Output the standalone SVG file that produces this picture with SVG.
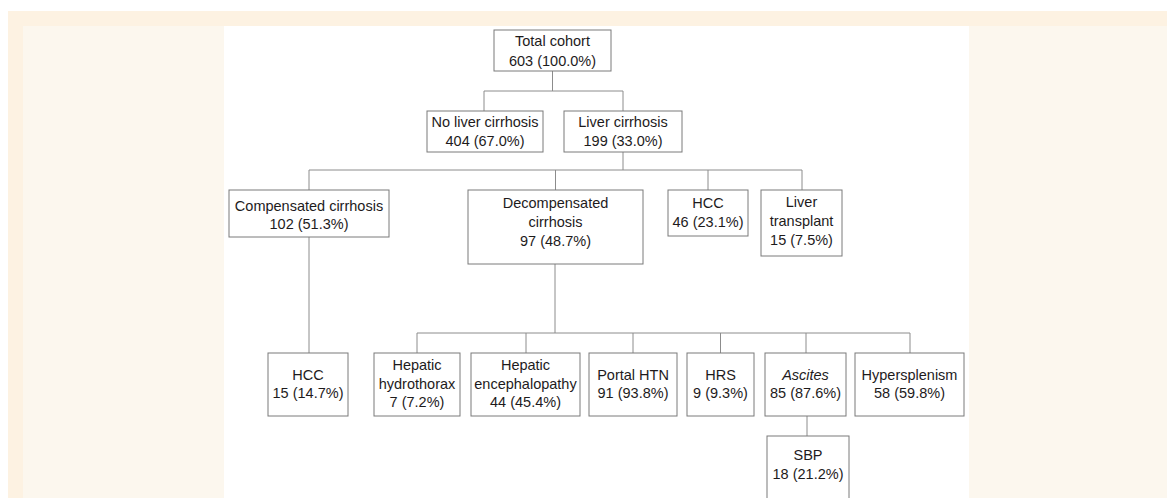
<svg xmlns="http://www.w3.org/2000/svg" width="1167" height="498" viewBox="0 0 1167 498">
<style>
.box{fill:#fff;stroke:#7a7a7a;stroke-width:1}
.ln{fill:none;stroke:#8c8c8c;stroke-width:1}
text{font-family:"Liberation Sans",Arial,sans-serif;font-size:14.5px;fill:#1e1b1c;text-anchor:middle}
</style>
<rect x="0" y="0" width="1167" height="498" fill="#ffffff"/>
<rect x="8" y="11" width="1159" height="15" fill="#fdf2e2"/>
<rect x="8" y="26" width="15" height="472" fill="#fdf2e2"/>
<rect x="23" y="26" width="201" height="472" fill="#fcf7ee"/>
<rect x="969" y="26" width="198" height="472" fill="#fcf7ee"/>
<rect x="224" y="26" width="745" height="472" fill="#ffffff"/>
<g id="connectors">
<path class="ln" d="M552.5,71V91M484,111V91H623V111"/>
<path class="ln" d="M623,152V170M309,190V170H802V190M555.5,170V190M708,170V190"/>
<path class="ln" d="M309,237V353"/>
<path class="ln" d="M555,264V333M417,353V333H910V353M526,333V353M633,333V353M720.5,333V353M806,333V353"/>
<path class="ln" d="M807,416V436"/>
</g>
<g id="total"><rect class="box" x="494" y="30" width="117" height="41"/><text x="552.5" y="46">Total cohort</text><text x="552.5" y="65.5">603 (100.0%)</text></g>
<g id="noliver"><rect class="box" x="427" y="111" width="116" height="41"/><text x="485" y="127.3">No liver cirrhosis</text><text x="485" y="145.7">404 (67.0%)</text></g>
<g id="liver"><rect class="box" x="564" y="111" width="118" height="41"/><text x="623" y="127.3">Liver cirrhosis</text><text x="623" y="145.7">199 (33.0%)</text></g>
<g id="compensated"><rect class="box" x="229" y="190" width="160" height="47"/><text x="309" y="210.5">Compensated cirrhosis</text><text x="309" y="229">102 (51.3%)</text></g>
<g id="decompensated"><rect class="box" x="468" y="190" width="175" height="74"/><text x="555.5" y="208">Decompensated</text><text x="555.5" y="227">cirrhosis</text><text x="555.5" y="246">97 (48.7%)</text></g>
<g id="hcc1"><rect class="box" x="668" y="190" width="80" height="46"/><text x="708" y="208.3">HCC</text><text x="708" y="227.3">46 (23.1%)</text></g>
<g id="transplant"><rect class="box" x="761" y="190" width="81" height="66"/><text x="801.5" y="207.3">Liver</text><text x="801.5" y="226">transplant</text><text x="801.5" y="245">15 (7.5%)</text></g>
<g id="hcc2"><rect class="box" x="268" y="353" width="80" height="63"/><text x="308" y="380">HCC</text><text x="308" y="398.3">15 (14.7%)</text></g>
<g id="hydrothorax"><rect class="box" x="374" y="353" width="86" height="63"/><text x="417" y="370">Hepatic</text><text x="417" y="389">hydrothorax</text><text x="417" y="407.3">7 (7.2%)</text></g>
<g id="encephalopathy"><rect class="box" x="471" y="353" width="109" height="63"/><text x="525.5" y="370">Hepatic</text><text x="525.5" y="389">encephalopathy</text><text x="525.5" y="407.3">44 (45.4%)</text></g>
<g id="portal"><rect class="box" x="589" y="353" width="88" height="63"/><text x="633" y="380">Portal HTN</text><text x="633" y="398.3">91 (93.8%)</text></g>
<g id="hrs"><rect class="box" x="687" y="353" width="67" height="63"/><text x="720.5" y="380">HRS</text><text x="720.5" y="398.3">9 (9.3%)</text></g>
<g id="ascites"><rect class="box" x="765" y="353" width="81" height="63"/><text x="805.5" y="380" font-style="italic">Ascites</text><text x="805.5" y="398.3">85 (87.6%)</text></g>
<g id="hypersplenism"><rect class="box" x="855" y="353" width="109" height="63"/><text x="909.5" y="380">Hypersplenism</text><text x="909.5" y="398.3">58 (59.8%)</text></g>
<g id="sbp"><rect class="box" x="767" y="436" width="82" height="66"/><text x="808" y="460">SBP</text><text x="808" y="479.3">18 (21.2%)</text></g>
</svg>
